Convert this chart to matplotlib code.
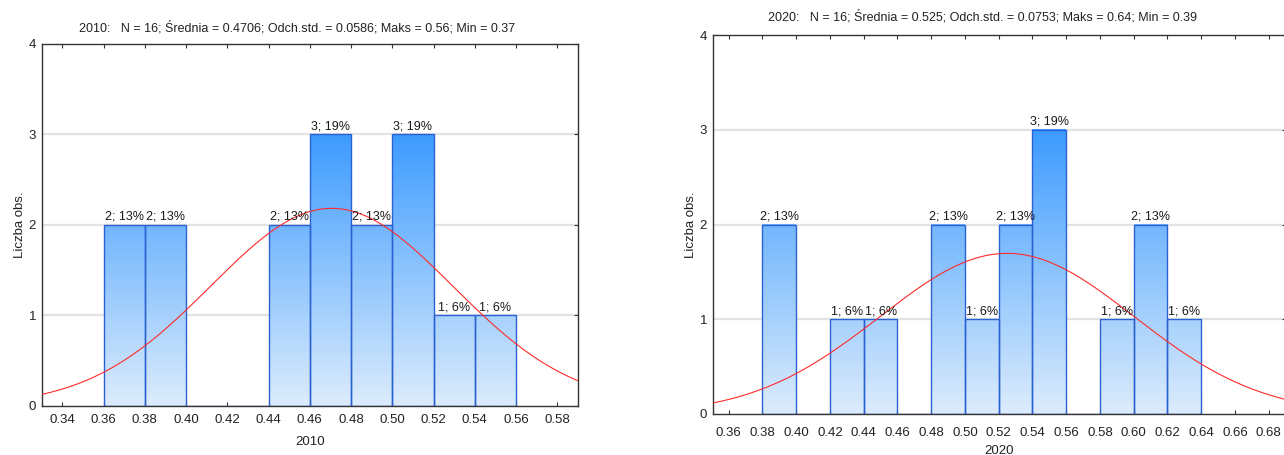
import numpy as np
import matplotlib
matplotlib.use('Agg')
import matplotlib.pyplot as plt
from matplotlib.colors import LinearSegmentedColormap

# data
bin_width = 0.02

edges_2010 = [0.36, 0.38, 0.40, 0.42, 0.44, 0.46, 0.48, 0.50, 0.52, 0.54]
counts_2010 = [2, 2, 0, 0, 2, 3, 2, 3, 1, 1]
stats_2010 = dict(n=16, mean=0.4706, sd=0.0586, max=0.56, min=0.37)

edges_2020 = [0.38, 0.40, 0.42, 0.44, 0.46, 0.48, 0.50, 0.52, 0.54, 0.56,
              0.58, 0.60, 0.62]
counts_2020 = [2, 0, 1, 1, 0, 2, 1, 2, 3, 0, 1, 2, 1]
stats_2020 = dict(n=16, mean=0.525, sd=0.0753, max=0.64, min=0.39)

xticks_2010 = [0.34, 0.36, 0.38, 0.40, 0.42, 0.44, 0.46, 0.48, 0.50, 0.52,
               0.54, 0.56, 0.58]
xticks_2020 = [0.36, 0.38, 0.40, 0.42, 0.44, 0.46, 0.48, 0.50, 0.52, 0.54,
               0.56, 0.58, 0.60, 0.62, 0.64, 0.66, 0.68]

FONT = ['Liberation Sans', 'DejaVu Sans']

W, H = 1284, 455
fig = plt.figure(figsize=(W / 100, H / 100), dpi=100)

grad = LinearSegmentedColormap.from_list('bars', ['#dcecfc', '#3d9bff'])


def px_box(x0, x1, ytop, ybot):
    return [x0 / W, 1 - ybot / H, (x1 - x0) / W, (ybot - ytop) / H]


def hist_panel(box, edges, counts, st, xlim, xticks, year, tpad, lpad):
    ax = fig.add_axes(box)
    ax.set_xlim(*xlim)
    ax.set_ylim(0, 4)

    for y in (1, 2, 3):
        ax.axhline(y, color='#e3e3e3', lw=1.6, zorder=0)

    for left, c in zip(edges, counts):
        if c == 0:
            continue
        g = np.linspace(0, c, 200)[:, None]
        ax.imshow(g, cmap=grad, vmin=0, vmax=3, origin='lower', aspect='auto',
                  extent=(left, left + bin_width, 0, c), zorder=1,
                  interpolation='bilinear')
    ax.bar(edges, counts, width=bin_width, align='edge', fill=False,
           edgecolor='#2a62d4', lw=1.0, zorder=2)

    for left, c in zip(edges, counts):
        if c == 0:
            continue
        pct = int(c / st['n'] * 100 + 0.5)
        ax.text(left + bin_width / 2, c + 0.02, f'{c}; {pct}%', ha='center',
                va='bottom', fontsize=9, family=FONT, color='#1a1a1a',
                zorder=4)

    # normal curve from the listed mean / std. dev.
    xs = np.linspace(xlim[0], xlim[1], 400)
    ys = st['n'] * bin_width / (st['sd'] * np.sqrt(2 * np.pi)) * \
        np.exp(-0.5 * ((xs - st['mean']) / st['sd']) ** 2)
    ax.plot(xs, ys, color='#ff2a2a', lw=0.8, zorder=3)

    ax.set_xlim(*xlim)
    ax.set_ylim(0, 4)
    ax.set_xticks(xticks)
    ax.set_xticklabels([f'{t:.2f}' for t in xticks])
    ax.set_yticks([0, 1, 2, 3, 4])
    ax.tick_params(axis='both', direction='in', length=3, width=0.8,
                   colors='#333333', labelcolor='#222222', labelsize=9.5,
                   top=True, right=True)
    ax.tick_params(axis='x', pad=tpad)
    ax.tick_params(axis='y', pad=4, left=False)
    for lab in ax.get_xticklabels() + ax.get_yticklabels():
        lab.set_family(FONT)
    for sp in ax.spines.values():
        sp.set_color('#333333')
        sp.set_linewidth(1.0)
    ax.set_xlabel(year, fontsize=9.5, family=FONT, color='#222222',
                  labelpad=lpad)
    ax.set_ylabel('Liczba obs.', fontsize=9.5, family=FONT, color='#222222',
                  labelpad=2)
    return ax


hist_panel(px_box(41.7, 578, 43.5, 405.5), edges_2010, counts_2010,
           stats_2010, (0.33, 0.59), xticks_2010, '2010', 6, 7)
hist_panel(px_box(712.7, 1285.5, 35, 414), edges_2020, counts_2020,
           stats_2020, (0.3505, 0.69), xticks_2020, '2020', 9, 5)


def title(st, year):
    return (f"{year}:   N = {st['n']}; Średnia = {st['mean']:g}; "
            f"Odch.std. = {st['sd']:g}; Maks = {st['max']:g}; "
            f"Min = {st['min']:g}")


fig.text(296.7 / W, 1 - 28 / H, title(stats_2010, '2010'), ha='center',
         va='center', fontsize=9, family=FONT, color='#222222')
fig.text(983 / W, 1 - 17 / H, title(stats_2020, '2020'), ha='center',
         va='center', fontsize=9, family=FONT, color='#222222')

fig.savefig('out.png', dpi=100)
